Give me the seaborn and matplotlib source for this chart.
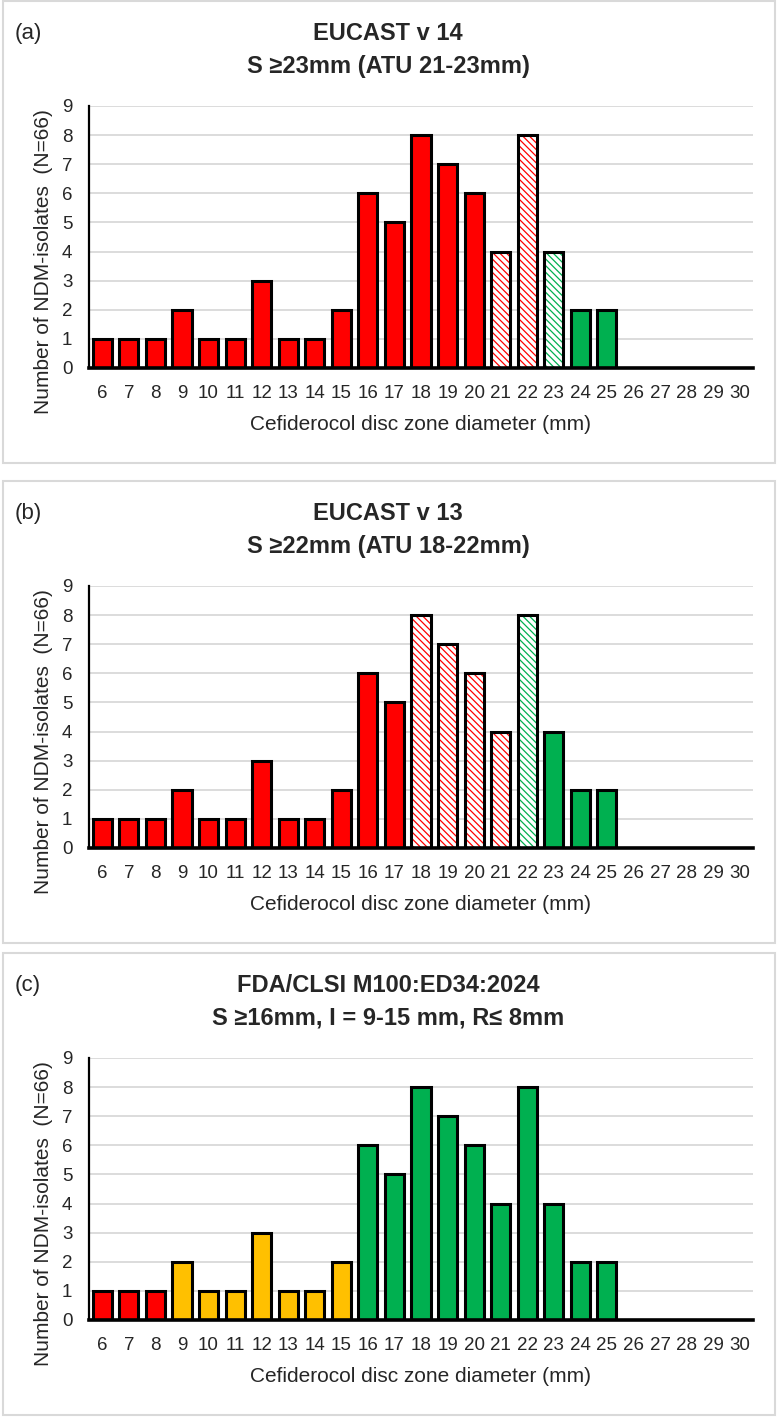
import numpy as np
import pandas as pd
import matplotlib.pyplot as plt
import seaborn as sns
from matplotlib.patches import Rectangle

# Zone diameters (mm) and number of isolates per diameter
diameters = ["6", "7", "8", "9", "10", "11", "12", "13", "14", "15", "16", "17", "18",
             "19", "20", "21", "22", "23", "24", "25", "26", "27", "28", "29", "30"]
counts = [1, 1, 1, 2, 1, 1, 3, 1, 1, 2, 6, 5, 8, 7, 6, 4, 8, 4, 2, 2, 0, 0, 0, 0, 0]

# Category of each bar: r = resistant, hr = ATU (resistant side), hs = ATU (susceptible side),
# s = susceptible, i = intermediate
cats_a = ["r", "r", "r", "r", "r", "r", "r", "r", "r", "r", "r", "r", "r",
          "r", "r", "hr", "hr", "hs", "s", "s", "s", "s", "s", "s", "s"]
cats_b = ["r", "r", "r", "r", "r", "r", "r", "r", "r", "r", "r", "r", "hr",
          "hr", "hr", "hr", "hs", "s", "s", "s", "s", "s", "s", "s", "s"]
cats_c = ["r", "r", "r", "i", "i", "i", "i", "i", "i", "i", "s", "s", "s",
          "s", "s", "s", "s", "s", "s", "s", "s", "s", "s", "s", "s"]

panel_tags = ["(a)", "(b)", "(c)"]
titles = [("EUCAST v 14", "S \u226523mm (ATU 21-23mm)"),
          ("EUCAST v 13", "S \u226522mm (ATU 18-22mm)"),
          ("FDA/CLSI M100:ED34:2024", "S \u226516mm, I = 9-15 mm, R\u2264 8mm")]

RED = "#ff0000"
GREEN = "#00b050"
YELLOW = "#ffc000"
fill_colors = {"r": RED, "hr": "white", "hs": "white", "s": GREEN, "i": YELLOW}
hatch_colors = {"hr": RED, "hs": GREEN}

sns.set_style("white")
plt.rcParams["font.family"] = ["Liberation Sans", "DejaVu Sans"]
plt.rcParams["hatch.linewidth"] = 0.9

W, H = 778, 1417
fig = plt.figure(figsize=(W / 100, H / 100), dpi=100)


def fx(px):
    return px / W


def fy(py):
    return 1 - py / H


box_tops = [1, 481, 953]
box_h = 462


def draw_panel(ax, cats):
    palette = [fill_colors[c] for c in cats]
    sns.barplot(x=diameters, y=counts, hue=diameters, palette=palette, legend=False,
                width=0.72, saturation=1, errorbar=None, ax=ax)
    for p, c in zip(ax.patches, cats):
        p.set_linewidth(0)
        if c in hatch_colors:
            p.set_facecolor("white")
            p.set_edgecolor(hatch_colors[c])
            p.set_hatch("\\\\\\\\\\")
    n = len(ax.patches)
    # outlines on top
    sns.barplot(x=diameters, y=counts, color="white", width=0.72, saturation=1,
                errorbar=None, ax=ax)
    for p in ax.patches[n:]:
        p.set_facecolor("none")
        p.set_edgecolor("black")
        p.set_linewidth(2.2)

    ax.set_xlim(-0.5, len(diameters) - 0.5)
    ax.set_ylim(0, 9)
    ax.set_yticks(range(10))
    ax.yaxis.grid(True, color="#d9d9d9", lw=1.3)
    ax.set_axisbelow(True)
    for side in ["top", "right"]:
        ax.spines[side].set_visible(False)
    ax.spines["left"].set_color("black")
    ax.spines["left"].set_linewidth(1.6)
    ax.spines["bottom"].set_color("black")
    ax.spines["bottom"].set_linewidth(2.6)
    ax.tick_params(axis="both", length=0, labelsize=13.5)
    ax.tick_params(axis="y", pad=12)
    ax.tick_params(axis="x", pad=12)
    ax.set_xlabel("Cefiderocol disc zone diameter (mm)", fontsize=15, va="center")
    ax.set_ylabel("Number of NDM-isolates  (N=66)", fontsize=15, va="center")
    ax.xaxis.set_label_coords(0.5, -0.214)
    ax.yaxis.set_label_coords(-0.069, 0.405)


panels = [cats_a, cats_b, cats_c]
for top, cats, tag, (t1, t2) in zip(box_tops, panels, panel_tags, titles):
    fig.add_artist(Rectangle((fx(3), fy(top + box_h)), fx(772), box_h / H,
                             transform=fig.transFigure, fill=False,
                             edgecolor="#d9d9d9", lw=1.5))
    ax = fig.add_axes([fx(89), fy(top + 367), fx(664), 262 / H])
    draw_panel(ax, cats)
    fig.text(fx(15), fy(top + 32), tag, fontsize=16, ha="left", va="center")
    fig.text(fx(388), fy(top + 32), t1, fontsize=17, fontweight="bold",
             ha="center", va="center")
    fig.text(fx(388), fy(top + 65), t2, fontsize=17, fontweight="bold",
             ha="center", va="center")

fig.savefig("out.png", dpi=100)
